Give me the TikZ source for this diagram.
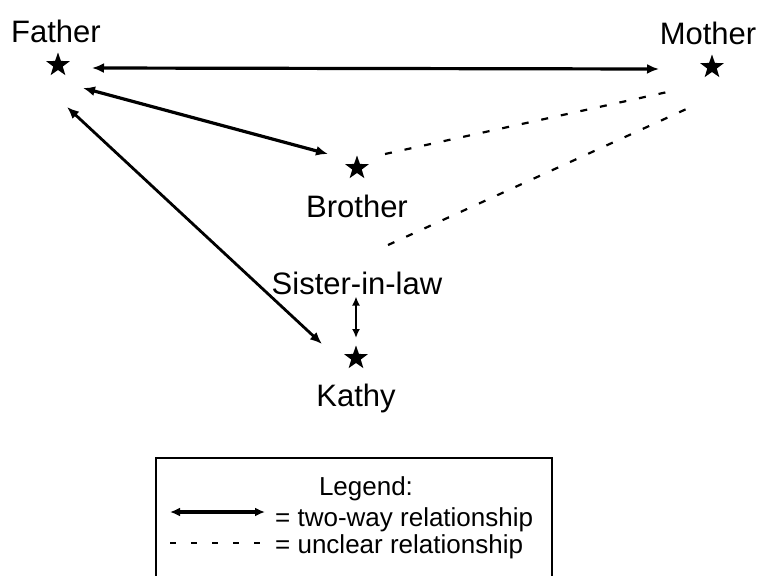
\documentclass[tikz,border=0pt]{standalone}
\usepackage{fontspec}
\setmainfont{Liberation Sans}
\usetikzlibrary{arrows.meta,shapes.geometric}

\begin{document}
\begin{tikzpicture}[x=1pt, y=-1pt,
  person/.style={star, star points=5, star point ratio=2.5, fill=black,
    inner sep=0pt, minimum size=25pt},
  memberlabel/.style={anchor=base, inner sep=0pt, font=\fontsize{31}{36}\selectfont},
  twoway/.style={{Latex[length=12pt,width=10pt]}-{Latex[length=12pt,width=10pt]},
    line width=3.2pt},
  shortway/.style={{Latex[length=9pt,width=8pt]}-{Latex[length=9pt,width=8pt]},
    line width=2.6pt},
  unclear/.style={line width=2.2pt, dash pattern=on 7pt off 13pt},
  legendtext/.style={inner sep=0pt, font=\fontsize{26}{30}\selectfont}]

\useasboundingbox (0,0) rectangle (761,576);

% Family members
\node[person] (father) at (58,65) {};
\node[memberlabel] (fatherlbl) at (56,42) {Father};
\node[person] (mother) at (712,67) {};
\node[memberlabel] (motherlbl) at (708,44) {Mother};
\node[person] (brother) at (357,168) {};
\node[memberlabel] (brotherlbl) at (357,217) {Brother};
\node[memberlabel] (sister) at (357,294) {Sister-in-law};
\node[person] (kathy) at (356,358) {};
\node[memberlabel] (kathylbl) at (356,406) {Kathy};

% Two-way relationships
\draw[twoway] ([shift={(34,3)}]father.center) -- ([shift={(-53,2)}]mother.center);
\draw[twoway] ([shift={(25,23)}]father.center) -- ([shift={(-29,-14)}]brother.center);
\draw[twoway, line width=2.8pt] ([shift={(9,42)}]father.center) -- ([shift={(-34,-14)}]kathy.center);
\draw[shortway] ([shift={(-1,2)}]sister.south) -- ([shift={(0,-20)}]kathy.center);

% Unclear relationships
\draw[unclear] ([shift={(28,-14)}]brother.center) -- ([shift={(-40,24)}]mother.center);
\draw[unclear] ([shift={(31,-49)}]sister.base) -- ([shift={(-19,39)}]mother.center);

% Legend
\draw[line width=1.8pt] (156,458) rectangle (552,600);
\node[legendtext, anchor=base] (legend) at (366,495) {Legend:};
\node[legendtext, anchor=base west] (twowaytxt) at (275,526) {= two-way relationship};
\node[legendtext, anchor=base west] (uncleartxt) at (275,553) {= unclear relationship};
\coordinate (lgA) at (170,512);
\coordinate (lgB) at (265,512);
\coordinate (lgC) at (170,543);
\coordinate (lgD) at (262,543);
\draw[twoway, {Latex[length=10pt,width=9pt]}-{Latex[length=10pt,width=9pt]}] (lgA) -- (lgB);
\draw[unclear, dash pattern=on 6pt off 15pt] (lgC) -- (lgD);

\end{tikzpicture}
\end{document}
